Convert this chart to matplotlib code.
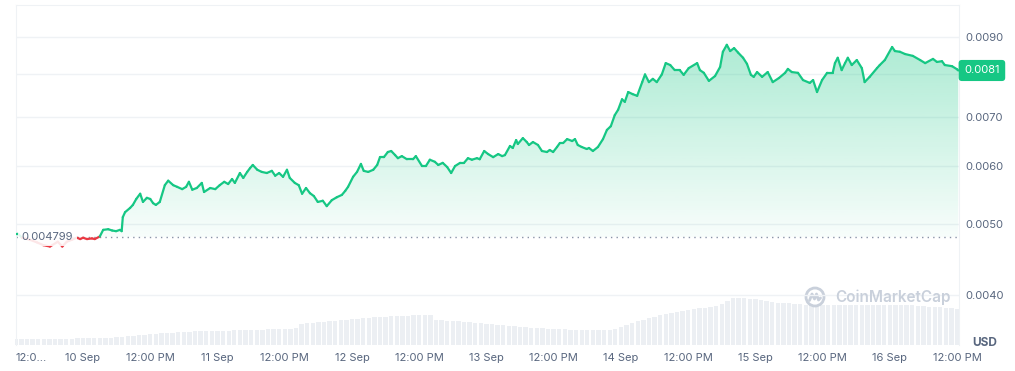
import numpy as np
import matplotlib.pyplot as plt
import matplotlib.transforms as mtransforms
from matplotlib.collections import LineCollection
from matplotlib.colors import to_rgb
from matplotlib.image import AxesImage
from matplotlib.patches import Circle, PathPatch
from matplotlib.path import Path
from matplotlib.ticker import FixedLocator, FixedFormatter, NullLocator

plt.rcParams['font.family'] = ['Inter', 'DejaVu Sans']

# price, hours counted from 10 Sep 00:00
hours = [
    -12.0, -11.6, -10.9, -9.5, -8.2, -7.1, -5.9, -4.5, -3.7, -2.9, -2.0, -1.1,
    -0.5, 0.0, 0.7, 1.6, 2.1, 3.0, 3.6, 4.5, 5.2, 5.9, 6.6, 6.9,
    7.1, 7.5, 8.4, 8.9, 9.5, 10.2, 10.7, 11.4, 12.0, 12.5, 13.0, 13.7,
    14.6, 15.2, 16.1, 16.8, 17.7, 18.4, 18.9, 19.5, 20.3, 21.2, 21.6, 22.7,
    23.6, 24.4, 25.2, 25.9, 26.6, 27.1, 28.0, 28.6, 29.3, 29.8, 30.3, 31.1,
    31.9, 32.8, 33.7, 34.3, 35.0, 35.7, 36.4, 36.9, 37.8, 38.5, 39.1, 39.8,
    40.5, 41.2, 41.9, 42.8, 43.5, 44.4, 45.3, 46.2, 46.8, 47.3, 48.2, 48.9,
    49.6, 50.1, 50.9, 51.8, 52.5, 53.0, 53.7, 54.4, 55.0, 55.7, 56.2, 56.9,
    57.8, 58.9, 59.4, 60.5, 61.2, 61.9, 62.8, 63.4, 64.2, 65.0, 65.7, 66.4,
    67.3, 68.0, 68.7, 69.4, 70.3, 70.8, 71.6, 72.3, 73.2, 74.1, 74.8, 75.3,
    76.2, 76.7, 77.3, 77.6, 78.5, 79.2, 79.6, 80.3, 81.2, 81.9, 82.8, 83.3,
    83.9, 84.6, 85.1, 85.7, 86.4, 87.3, 87.8, 88.3, 89.0, 89.9, 90.3, 91.0,
    91.9, 92.8, 93.5, 94.2, 94.9, 95.5, 96.2, 96.7, 97.3, 98.1, 98.9, 99.8,
    100.3, 101.0, 101.7, 102.4, 103.3, 104.0, 104.8, 105.6, 106.5, 107.2, 108.1, 109.6,
    110.1, 110.8, 111.7, 112.8, 113.7, 114.2, 114.9, 115.5, 116.2, 116.9, 117.8, 118.5,
    119.2, 119.7, 120.3, 121.2, 122.2, 123.1, 124.2, 125.3, 125.8, 126.5, 127.6, 128.5,
    129.7, 130.3, 131.0, 131.9, 132.8, 133.8, 134.2, 134.7, 135.4, 136.0, 136.5, 137.2,
    138.1, 139.0, 139.5, 140.4, 141.7, 142.2, 143.1, 144.4, 144.9, 145.8, 146.7, 148.1,
    149.4, 150.3, 151.7, 152.4, 153.3, 153.8, 155.1, 156.0, 156.2,
]
price = [
    0.00485, 0.00485, 0.00479, 0.00476, 0.00472, 0.00468, 0.00466, 0.00473, 0.00466, 0.00473, 0.00476, 0.00479,
    0.00477, 0.00479, 0.00477, 0.00478, 0.00477, 0.00481, 0.00491, 0.00492, 0.00490, 0.00489, 0.00491, 0.00489,
    0.00511, 0.00519, 0.00526, 0.00531, 0.00541, 0.00550, 0.00536, 0.00543, 0.00541, 0.00534, 0.00531, 0.00536,
    0.00565, 0.00573, 0.00565, 0.00562, 0.00558, 0.00562, 0.00571, 0.00557, 0.00560, 0.00569, 0.00553, 0.00560,
    0.00558, 0.00565, 0.00571, 0.00567, 0.00576, 0.00569, 0.00587, 0.00578, 0.00589, 0.00596, 0.00602, 0.00593,
    0.00589, 0.00587, 0.00591, 0.00582, 0.00587, 0.00580, 0.00593, 0.00578, 0.00569, 0.00565, 0.00550, 0.00560,
    0.00551, 0.00546, 0.00536, 0.00538, 0.00529, 0.00539, 0.00544, 0.00548, 0.00555, 0.00562, 0.00580, 0.00589,
    0.00604, 0.00591, 0.00589, 0.00593, 0.00602, 0.00617, 0.00617, 0.00627, 0.00629, 0.00621, 0.00615, 0.00619,
    0.00613, 0.00613, 0.00619, 0.00600, 0.00600, 0.00612, 0.00608, 0.00602, 0.00606, 0.00598, 0.00587, 0.00600,
    0.00606, 0.00606, 0.00615, 0.00612, 0.00615, 0.00613, 0.00629, 0.00623, 0.00617, 0.00623, 0.00619, 0.00621,
    0.00639, 0.00635, 0.00651, 0.00643, 0.00655, 0.00647, 0.00641, 0.00647, 0.00641, 0.00629, 0.00627, 0.00631,
    0.00627, 0.00637, 0.00645, 0.00645, 0.00653, 0.00649, 0.00653, 0.00641, 0.00637, 0.00633, 0.00635, 0.00629,
    0.00637, 0.00653, 0.00672, 0.00680, 0.00704, 0.00716, 0.00740, 0.00734, 0.00757, 0.00752, 0.00748, 0.00781,
    0.00800, 0.00781, 0.00789, 0.00781, 0.00800, 0.00829, 0.00824, 0.00811, 0.00811, 0.00799, 0.00816, 0.00829,
    0.00811, 0.00804, 0.00784, 0.00796, 0.00819, 0.00859, 0.00878, 0.00861, 0.00869, 0.00857, 0.00843, 0.00827,
    0.00799, 0.00794, 0.00806, 0.00794, 0.00806, 0.00781, 0.00791, 0.00804, 0.00814, 0.00806, 0.00804, 0.00786,
    0.00779, 0.00786, 0.00757, 0.00786, 0.00804, 0.00804, 0.00829, 0.00843, 0.00811, 0.00829, 0.00843, 0.00824,
    0.00837, 0.00816, 0.00781, 0.00794, 0.00816, 0.00824, 0.00837, 0.00872, 0.00861, 0.00859, 0.00853, 0.00848,
    0.00837, 0.00829, 0.00840, 0.00832, 0.00834, 0.00824, 0.00821, 0.00813, 0.00810,
]
base_price = 0.004799
last_price = 0.0081

# 24h volume (relative units), one bar per hour from 9 Sep 12:00
vol_hours = list(range(-12, 157))
volume = [
    0.60, 0.60, 0.60, 0.60, 0.60, 0.60, 0.65, 0.65, 0.65, 0.65, 0.65, 0.70,
    0.70, 0.70, 0.70, 0.70, 0.70, 0.75, 0.80, 0.85, 0.90, 0.95, 1.00, 1.05,
    1.10, 1.15, 1.20, 1.20, 1.25, 1.30, 1.30, 1.35, 1.40, 1.40, 1.40, 1.40,
    1.45, 1.45, 1.45, 1.50, 1.50, 1.50, 1.50, 1.55, 1.55, 1.60, 1.60, 1.60,
    1.65, 1.65, 1.70, 2.10, 2.20, 2.25, 2.30, 2.35, 2.40, 2.45, 2.50, 2.55,
    2.60, 2.65, 2.70, 2.75, 2.80, 2.80, 2.85, 2.90, 2.90, 2.95, 2.95, 3.00,
    3.00, 3.00, 3.00, 2.55, 2.50, 2.45, 2.45, 2.40, 2.35, 2.30, 2.25, 2.20,
    2.15, 2.10, 2.05, 2.00, 1.95, 1.90, 1.85, 1.80, 1.75, 1.70, 1.70, 1.65,
    1.65, 1.60, 1.60, 1.55, 1.55, 1.50, 1.50, 1.50, 1.50, 1.50, 1.55, 1.65,
    1.80, 2.00, 2.25, 2.40, 2.55, 2.70, 2.85, 3.00, 3.15, 3.25, 3.35, 3.45,
    3.50, 3.60, 3.70, 3.75, 3.80, 3.90, 4.10, 4.40, 4.70, 4.70, 4.70, 4.65,
    4.60, 4.55, 4.40, 4.30, 4.25, 4.20, 4.20, 4.15, 4.10, 4.05, 4.00, 4.00,
    4.00, 4.00, 4.00, 4.00, 4.00, 4.00, 4.00, 4.00, 4.00, 4.00, 4.00, 4.00,
    4.00, 4.00, 4.00, 4.00, 4.00, 3.95, 3.90, 3.85, 3.80, 3.80, 3.75, 3.70, 3.65,
]

xticks = [-12] + list(range(0, 157, 12))
xlabels = ["12:0...", "10 Sep", "12:00 PM", "11 Sep", "12:00 PM", "12 Sep", "12:00 PM",
           "13 Sep", "12:00 PM", "14 Sep", "12:00 PM", "15 Sep", "12:00 PM", "16 Sep", "12:00 PM"]
yticks = [0.004, 0.005, 0.006, 0.007, 0.008, 0.009]
ylabels = ["0.0040", "0.0050", "0.0060", "0.0070", "", "0.0090"]

green = '#16c784'
red = '#ea3943'
grey = '#58667e'
light = '#eff2f5'

W, H = 1015, 371
fig = plt.figure(figsize=(W / 100, H / 100), dpi=100)
fig.patch.set_facecolor('white')
ax = fig.add_axes([15.5 / W, 1 - 345 / H, 943 / W, 340 / H])

# volume underneath
ax2 = ax.twinx()
ax.set_zorder(ax2.get_zorder() + 1)
ax.patch.set_visible(False)
ax2.bar(vol_hours, volume, width=0.78, color='#eceff3', linewidth=0)
ax2.set_ylim(0, 34)
ax2.set_yticks([])
ax2.tick_params(length=0)
for s in ax2.spines.values():
    s.set_visible(False)

ax.set_yscale('log')
ax.set_xlim(-12.05, 156.25)
ax.set_ylim(0.00342, 0.00995)
ax.yaxis.set_major_locator(FixedLocator(yticks))
ax.yaxis.set_major_formatter(FixedFormatter(ylabels))
ax.yaxis.set_minor_locator(NullLocator())
ax.yaxis.tick_right()
ax.grid(axis='y', color=light, lw=1, zorder=0)
ax.set_axisbelow(True)
ax.tick_params(axis='y', length=0, pad=5, labelsize=8, labelcolor=grey)
ax.set_xticks(xticks)
ax.set_xticklabels(xlabels)
ax.tick_params(axis='x', length=0, pad=5.5, labelsize=8, labelcolor=grey)
ax.get_xticklabels()[0].set_ha('left')
for side in ['left', 'top', 'right']:
    ax.spines[side].set_color(light)
ax.spines['bottom'].set_visible(False)

t = np.array(hours)
p = np.array(price)

# gradient fill from the line down to the opening price
to_ax = ax.transData + ax.transAxes.inverted()
f_base = to_ax.transform((0, base_price))[1]
f_top = to_ax.transform((0, p.max()))[1]
fr = np.linspace(0, 1, 400)
a = np.clip((fr - f_base) / (f_top - f_base), 0, 1.1)
alpha = np.where(fr >= f_base, 0.03 + 0.32 * a, 0.0)
rgba = np.zeros((400, 1, 4))
rgba[:, 0, :3] = to_rgb(green)
rgba[:, 0, 3] = alpha
img = AxesImage(ax, origin='lower', extent=(0, 1, 0, 1), interpolation='bilinear',
                transform=ax.transAxes, zorder=1)
img.set_data(rgba)
ax.add_image(img)
verts = list(zip(hours, price)) + [(hours[-1], base_price), (hours[0], base_price)]
clip = PathPatch(Path(verts), transform=ax.transData, facecolor='none', edgecolor='none')
img.set_clip_path(clip)

ax.fill_between(t, p, base_price, where=p < base_price, interpolate=True,
                color=red, alpha=0.08, lw=0, zorder=1)

ax.axhline(base_price, color='#8a94a8', lw=1, ls=(0, (1, 3)), zorder=2)

# price line, green above the opening price, red below
pts = np.column_stack([t, p])
segs = np.stack([pts[:-1], pts[1:]], axis=1)
mid = (p[:-1] + p[1:]) / 2
cols = [green if m >= base_price else red for m in mid]
lc = LineCollection(segs, colors=cols, linewidths=1.6, zorder=3, capstyle='round', joinstyle='round')
ax.add_collection(lc, autolim=False)

blend = mtransforms.blended_transform_factory(ax.transAxes, ax.transData)
ax.text(0.0065, base_price, '0.004799', transform=blend, ha='left', va='center',
        fontsize=8, color=grey, zorder=5,
        bbox=dict(fc='white', ec='none', alpha=0.88, pad=2.8))
ax.text(1.006, last_price, '0.0081', transform=blend, ha='left', va='center',
        fontsize=8, color='white', zorder=6, clip_on=False,
        bbox=dict(boxstyle='round,pad=0.5,rounding_size=0.3', fc=green, ec='none'))

fig.text(985 / W, 1 - 343 / H, 'USD', ha='center', va='center', fontsize=8.5,
         fontweight='bold', color=grey)

# watermark
wm = '#c9d0db'
fig.text(835 / W, 1 - 297 / H, 'CoinMarketCap', ha='left', va='center', fontsize=11,
         fontweight='semibold', color=wm)
lax = fig.add_axes([804 / W, 1 - 308 / H, 22 / W, 22 / H])
lax.set_xlim(-1.1, 1.1)
lax.set_ylim(-1.1, 1.1)
lax.axis('off')
lax.add_patch(Circle((0, 0), 0.9, fill=False, lw=2, ec=wm))
lax.plot([-0.55, -0.3, -0.05, 0.15, 0.35, 0.55], [-0.35, 0.3, -0.2, 0.3, -0.3, -0.1],
         color=wm, lw=2, solid_capstyle='round', solid_joinstyle='round')

fig.savefig('out.png', dpi=100, facecolor='white')
